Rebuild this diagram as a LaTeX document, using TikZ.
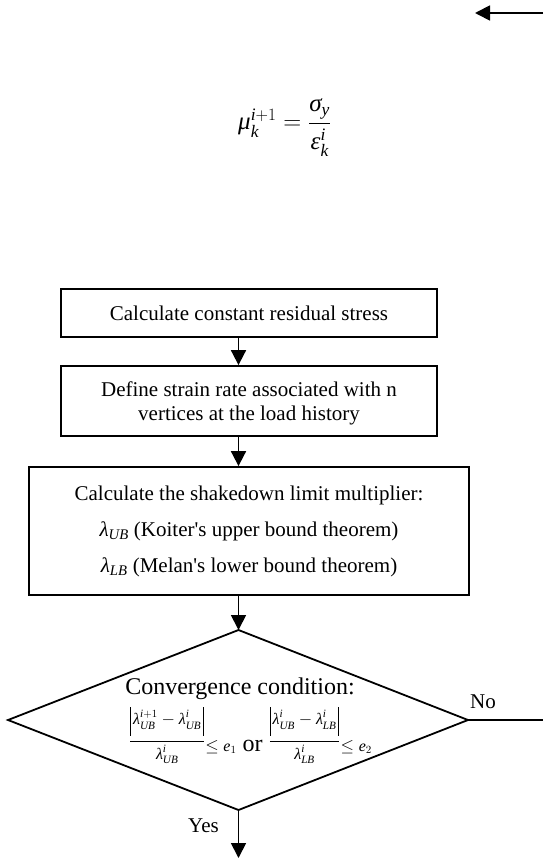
\documentclass[tikz,border=0pt]{standalone}
\usepackage{amsmath}
\usepackage{fontspec}
\setmainfont{Liberation Serif}
\usetikzlibrary{arrows.meta,shapes.geometric}
\newcommand\mi[1]{\text{\itshape #1}}
\newcommand\mathfs{\fontsize{16}{18}\selectfont}
\newcommand\headfs{\fontsize{24}{28}\selectfont}
\newcommand\boxfs{\fontsize{21}{24}\selectfont}
\newcommand\absbar{\rule[-11pt]{0.9pt}{29pt}}
\newcommand\fracA{\raisebox{5.5pt}{$\dfrac{\absbar\mspace{2mu}\mi{λ}_{\mi{UB}}^{\mi{i}+1}-\mi{λ}_{\mi{UB}}^{\mi{i}}\mspace{2mu}\absbar\rule[-14pt]{0pt}{0pt}}{\rule{0pt}{16pt}\mi{λ}_{\mi{UB}}^{\mi{i}}}$}}
\newcommand\fracB{\raisebox{5.5pt}{$\dfrac{\absbar\mspace{2mu}\mi{λ}_{\mi{UB}}^{\mi{i}}-\mi{λ}_{\mi{LB}}^{\mi{i}}\mspace{2mu}\absbar\rule[-14pt]{0pt}{0pt}}{\rule{0pt}{16pt}\mi{λ}_{\mi{LB}}^{\mi{i}}}$}}
\begin{document}
\begin{tikzpicture}[x=1pt,y=-1pt,
  box/.style={draw,line width=1.8pt,align=center,inner sep=0pt,font=\boxfs},
  txt/.style={inner sep=0pt,font=\boxfs,anchor=base},
  arr/.style={-{Triangle[length=15pt,width=15pt]},line width=1.8pt},
  edge/.style={line width=1.8pt}]
\useasboundingbox (0,0) rectangle (543,861);
% top arrow
\coordinate (ts) at (543,13);
\coordinate (te) at (475,13);
\draw[arr] (ts) -- (te);
% formula
\node[font=\fontsize{25}{30}\selectfont,inner sep=0pt,anchor=base west] (f) at (238,130)
  {$\mi{μ}_{\mi{k}}^{\mi{i}+1}=\dfrac{\mi{σ}_{\mi{y}}\rule[-9pt]{0pt}{0pt}}{\rule{0pt}{22pt}\mi{ε}_{\mi{k}}^{\mi{i}}}$};
% boxes
\node[box,minimum width=376pt,minimum height=48pt] (b1) at (249,313) {Calculate constant residual stress};
\node[box,minimum width=376pt,minimum height=70pt] (b2) at (249,401) {};
\node[txt] (t21) at (249,396) {Define strain rate associated with n};
\node[txt] (t22) at (249,420) {vertices at the load history};
\node[box,minimum width=440pt,minimum height=128pt] (b3) at (249,531) {};
\node[txt] (t1) at (249,500) {Calculate the shakedown limit multiplier:};
\node[txt] (t2) at (249,536) {$\mi{λ}_{\mi{UB}}$ (Koiter\textquotesingle s upper bound theorem)};
\node[txt] (t3) at (249,572) {$\mi{λ}_{\mi{LB}}$ (Melan\textquotesingle s lower bound theorem)};
% diamond
\coordinate (dt) at (238.5,630);
\coordinate (dl) at (8,720);
\coordinate (dr) at (468,720);
\coordinate (db) at (238.5,810);
\draw[edge,line join=miter] (dt) -- (dr) -- (db) -- (dl) -- cycle;
\node[inner sep=0pt,anchor=base,font=\headfs] (cc) at (240,694) {Convergence condition:};
\node[inner sep=0pt,anchor=base west] (cf) at (129,751)
  {\mathfs\fracA$\le\mi{e}_{1}$\headfs\ or\ \mathfs\fracB$\le\mi{e}_{2}$};
% No branch
\coordinate (re) at (543,720);
\draw[edge] (dr) -- (re);
\node[txt,anchor=base west] (no) at (470,708) {No};
% Yes branch
\coordinate (be) at (238.5,858);
\draw[arr] (db) -- (be);
\node[txt,anchor=base east] (yes) at (219,832) {Yes};
% connectors
\draw[arr] (b1.south -| dt) -- (b2.north -| dt);
\draw[arr] (b2.south -| dt) -- (b3.north -| dt);
\draw[arr] (b3.south -| dt) -- (dt);
\end{tikzpicture}
\end{document}
